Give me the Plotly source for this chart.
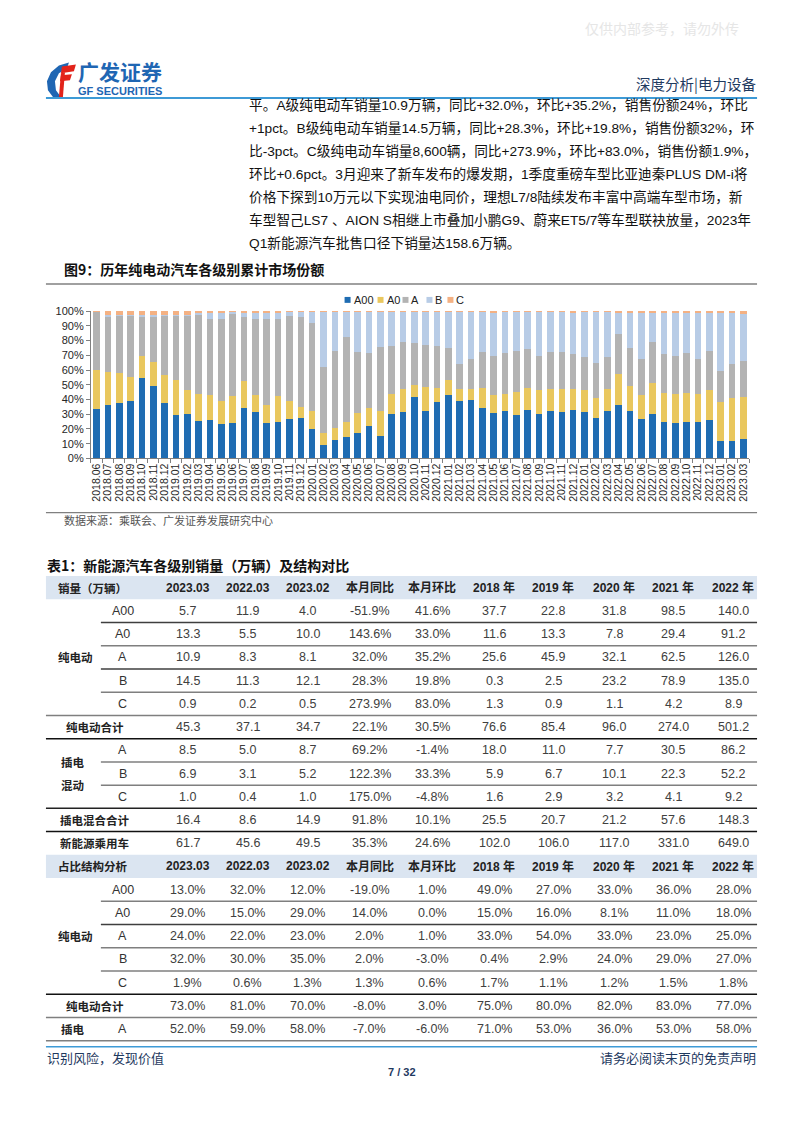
import plotly.graph_objects as go

PAGE_W, PAGE_H = 802, 1133
OFF = 8  # default body margin of the html page
W, H = PAGE_W - 2 * OFF, PAGE_H - 2 * OFF

# ---------------- chart data (market share %) ----------------
months = ["2018.06", "2018.07", "2018.08", "2018.09", "2018.10", "2018.11", "2018.12",
          "2019.01", "2019.02", "2019.03", "2019.04", "2019.05", "2019.06", "2019.07",
          "2019.08", "2019.09", "2019.10", "2019.11", "2019.12",
          "2020.01", "2020.02", "2020.03", "2020.04", "2020.05", "2020.06", "2020.07",
          "2020.08", "2020.09", "2020.10", "2020.11", "2020.12",
          "2021.01", "2021.02", "2021.03", "2021.04", "2021.05", "2021.06", "2021.07",
          "2021.08", "2021.09", "2021.10", "2021.11", "2021.12",
          "2022.01", "2022.02", "2022.03", "2022.04", "2022.05", "2022.06", "2022.07",
          "2022.08", "2022.09", "2022.10", "2022.11", "2022.12",
          "2023.01", "2023.02", "2023.03"]

share_a00 = [33.6, 36.2, 37.8, 39.1, 54.6, 49.2, 37.4, 29.5, 30.4, 25.7, 26.2, 23.3, 24.2, 34.2,
             31.8, 23.9, 25.0, 26.8, 27.3, 20.1, 9.4, 12.3, 14.5, 17.2, 21.7, 15.5, 30.4, 31.8,
             41.8, 32.2, 38.0, 43.0, 38.9, 39.6, 34.5, 30.6, 32.4, 29.5, 33.1, 30.0, 32.4, 31.3,
             32.9, 31.3, 27.3, 32.0, 36.2, 32.4, 26.8, 30.0, 25.0, 23.9, 25.0, 24.6, 26.2, 12.1,
             12.0, 13.0]
share_a0 = [26.1, 22.4, 20.4, 16.2, 15.2, 16.1, 19.0, 23.5, 15.9, 18.3, 17.2, 15.6, 18.3, 18.1,
            11.6, 12.3, 17.5, 12.1, 7.8, 12.3, 7.8, 8.7, 10.5, 13.4, 12.8, 16.7, 13.4, 15.2,
            7.9, 16.3, 9.9, 10.0, 8.1, 7.8, 13.4, 12.4, 11.6, 15.7, 14.8, 16.3, 14.6, 15.7,
            14.1, 15.0, 13.9, 15.0, 20.8, 16.6, 16.6, 21.2, 19.5, 20.1, 19.5, 19.4, 20.1, 26.4,
            29.0, 29.0]
share_a = [39.8, 37.9, 38.6, 41.5, 26.7, 30.7, 40.4, 43.8, 50.5, 53.5, 51.0, 55.5, 55.5, 43.9,
           51.0, 58.6, 52.3, 57.7, 61.1, 59.8, 44.8, 52.2, 57.1, 41.9, 36.9, 43.4, 32.3, 32.2,
           28.6, 28.5, 28.2, 21.7, 17.2, 20.2, 24.6, 26.8, 27.4, 28.0, 26.4, 23.5, 25.0, 25.0,
           23.7, 22.4, 23.5, 22.0, 27.3, 25.7, 24.2, 27.5, 26.2, 25.4, 26.9, 23.6, 26.9, 20.8,
           23.0, 24.0]
share_b = [0.0, 0.5, 0.4, 0.4, 0.8, 1.2, 0.6, 0.6, 0.8, 1.0, 4.1, 4.1, 1.4, 3.0,
           4.9, 4.5, 4.5, 2.8, 3.2, 7.3, 37.6, 26.4, 17.4, 26.9, 28.0, 23.8, 23.3, 20.3,
           21.2, 22.5, 23.4, 24.8, 35.3, 31.9, 27.0, 29.5, 28.1, 26.3, 25.2, 29.7, 27.5, 27.5,
           28.6, 30.8, 34.8, 30.4, 15.0, 24.5, 31.6, 20.6, 28.3, 29.4, 27.6, 31.4, 25.8, 39.7,
           34.7, 32.1]
share_c = [0.5, 3.0, 2.8, 2.8, 2.7, 2.8, 2.6, 2.6, 2.4, 1.5, 1.5, 1.5, 0.6, 0.8,
           0.7, 0.7, 0.7, 0.6, 0.6, 0.5, 0.4, 0.4, 0.5, 0.6, 0.6, 0.6, 0.6, 0.5,
           0.5, 0.5, 0.5, 0.5, 0.5, 0.5, 0.5, 0.7, 0.5, 0.5, 0.5, 0.5, 0.5, 0.5,
           0.7, 0.5, 0.5, 0.6, 0.7, 0.8, 0.8, 0.7, 1.0, 1.2, 1.0, 1.0, 1.0, 1.0,
           1.3, 1.9]

series_names = ["A00", "A0", "A", "B", "C"]
series_colors = ["#1f6cb2", "#e9c75e", "#b3b3b3", "#b8cce6", "#f4b183"]
y_ticks = [0, 10, 20, 30, 40, 50, 60, 70, 80, 90, 100]
y_ticktext = ["0%", "10%", "20%", "30%", "40%", "50%", "60%", "70%", "80%", "90%", "100%"]

# ---------------- table data ----------------
tbl_cols = ["2023.03", "2022.03", "2023.02", "本月同比", "本月环比",
            "2018 年", "2019 年", "2020 年", "2021 年", "2022 年"]
sales_bev_a00 = ["5.7", "11.9", "4.0", "-51.9%", "41.6%", "37.7", "22.8", "31.8", "98.5", "140.0"]
sales_bev_a0 = ["13.3", "5.5", "10.0", "143.6%", "33.0%", "11.6", "13.3", "7.8", "29.4", "91.2"]
sales_bev_a = ["10.9", "8.3", "8.1", "32.0%", "35.2%", "25.6", "45.9", "32.1", "62.5", "126.0"]
sales_bev_b = ["14.5", "11.3", "12.1", "28.3%", "19.8%", "0.3", "2.5", "23.2", "78.9", "135.0"]
sales_bev_c = ["0.9", "0.2", "0.5", "273.9%", "83.0%", "1.3", "0.9", "1.1", "4.2", "8.9"]
sales_bev_total = ["45.3", "37.1", "34.7", "22.1%", "30.5%", "76.6", "85.4", "96.0", "274.0", "501.2"]
sales_phev_a = ["8.5", "5.0", "8.7", "69.2%", "-1.4%", "18.0", "11.0", "7.7", "30.5", "86.2"]
sales_phev_b = ["6.9", "3.1", "5.2", "122.3%", "33.3%", "5.9", "6.7", "10.1", "22.3", "52.2"]
sales_phev_c = ["1.0", "0.4", "1.0", "175.0%", "-4.8%", "1.6", "2.9", "3.2", "4.1", "9.2"]
sales_phev_total = ["16.4", "8.6", "14.9", "91.8%", "10.1%", "25.5", "20.7", "21.2", "57.6", "148.3"]
sales_nev = ["61.7", "45.6", "49.5", "35.3%", "24.6%", "102.0", "106.0", "117.0", "331.0", "649.0"]
pct_bev_a00 = ["13.0%", "32.0%", "12.0%", "-19.0%", "1.0%", "49.0%", "27.0%", "33.0%", "36.0%", "28.0%"]
pct_bev_a0 = ["29.0%", "15.0%", "29.0%", "14.0%", "0.0%", "15.0%", "16.0%", "8.1%", "11.0%", "18.0%"]
pct_bev_a = ["24.0%", "22.0%", "23.0%", "2.0%", "1.0%", "33.0%", "54.0%", "33.0%", "23.0%", "25.0%"]
pct_bev_b = ["32.0%", "30.0%", "35.0%", "2.0%", "-3.0%", "0.4%", "2.9%", "24.0%", "29.0%", "27.0%"]
pct_bev_c = ["1.9%", "0.6%", "1.3%", "1.3%", "0.6%", "1.7%", "1.1%", "1.2%", "1.5%", "1.8%"]
pct_bev_total = ["73.0%", "81.0%", "70.0%", "-8.0%", "3.0%", "75.0%", "80.0%", "82.0%", "83.0%", "77.0%"]
pct_phev_a = ["52.0%", "59.0%", "58.0%", "-7.0%", "-6.0%", "71.0%", "53.0%", "36.0%", "53.0%", "58.0%"]

para_lines = [
    "平。A级纯电动车销量10.9万辆，同比+32.0%，环比+35.2%，销售份额24%，环比",
    "+1pct。B级纯电动车销量14.5万辆，同比+28.3%，环比+19.8%，销售份额32%，环",
    "比-3pct。C级纯电动车销量8,600辆，同比+273.9%，环比+83.0%，销售份额1.9%，",
    "环比+0.6pct。3月迎来了新车发布的爆发期，1季度重磅车型比亚迪秦PLUS DM-i将",
    "价格下探到10万元以下实现油电同价，理想L7/8陆续发布丰富中高端车型市场，新",
    "车型智己LS7 、AION S相继上市叠加小鹏G9、蔚来ET5/7等车型联袂放量，2023年",
    "Q1新能源汽车批售口径下销量达158.6万辆。",
]

# ---------------- helpers ----------------
FONT = "Liberation Sans, Arial, Noto Sans CJK SC, sans-serif"
NARROW = "Liberation Sans Narrow, Arial Narrow, Liberation Sans, Noto Sans CJK SC, sans-serif"
CJK = "Noto Sans CJK SC, Liberation Sans, sans-serif"


def X(px):
    return (px - OFF) / W


def Y(py):
    return 1 - (py - OFF) / H


annotations = []
shapes = []


def txt(x, y, s, size=12, color="#222222", xanchor="center", family=FONT, bold=False):
    if bold:
        s = "<b>" + s + "</b>"
    annotations.append(dict(x=X(x), y=Y(y), xref="paper", yref="paper", text=s,
                            showarrow=False, xanchor=xanchor, yanchor="middle",
                            borderpad=0,
                            font=dict(size=size, color=color, family=family)))


def hline(x0, x1, y, color="#7f7f7f", width=1.0):
    shapes.append(dict(type="line", xref="paper", yref="paper", x0=X(x0), x1=X(x1),
                       y0=Y(y), y1=Y(y), line=dict(color=color, width=width)))


def rect(x0, y0, x1, y1, color):
    shapes.append(dict(type="rect", xref="paper", yref="paper", x0=X(x0), x1=X(x1),
                       y0=Y(y0), y1=Y(y1), fillcolor=color, line=dict(width=0), layer="below"))


def path(pts, color):
    d = "M " + " L ".join(f"{X(a):.5f},{Y(b):.5f}" for a, b in pts) + " Z"
    shapes.append(dict(type="path", xref="paper", yref="paper", path=d,
                       fillcolor=color, line=dict(width=0)))


# ---------------- figure ----------------
fig = go.Figure()
for name, vals, col in zip(series_names, [share_a00, share_a0, share_a, share_b, share_c], series_colors):
    fig.add_trace(go.Bar(x=months, y=vals, name=name, marker=dict(color=col, line=dict(width=0)),
                         showlegend=False))

# ---- header ----
txt(662, 22, "仅供内部参考，请勿外传", size=14, color="#e6e6e6", family=CJK)
# logo icon (decorative)
path([(68, 57), (58, 60), (50, 67), (46, 76), (47, 85), (52, 92), (60, 92), (55, 85), (54, 76),
      (58, 68), (66, 63)], "#1f66b3")
path([(61, 61), (75, 59), (73, 66), (60, 68)], "#e2231a")
path([(60, 70), (71, 69), (69, 75), (59, 76)], "#e2231a")
path([(60, 68), (64, 67), (62, 92), (58, 92)], "#e2231a")
txt(76, 66, "广发证券", size=21, color="#1f66b3", xanchor="left", family=CJK, bold=True)
txt(76, 86, "GF SECURITIES", size=11, color="#1f66b3", xanchor="left", family=FONT, bold=True)
txt(757, 78, "深度分析|电力设备", size=14.5, color="#1f3a5f", xanchor="right", family=CJK)
hline(45, 757, 93, color="#3d9ad6", width=2)

# ---- paragraph ----
for i, line in enumerate(para_lines):
    txt(247, 100 + i * 23.2, line, size=13.7, color="#111111", xanchor="left", family=FONT)

# ---- figure title ----
txt(62, 266, "图9：历年纯电动汽车各级别累计市场份额", size=14, color="#111111", xanchor="left",
    family=CJK, bold=True)
hline(45, 757, 281, color="#808080", width=1.5)
hline(45, 757, 512, color="#808080", width=1.2)
txt(62, 520, "数据来源：乘联会、广发证券发展研究中心", size=11, color="#555555", xanchor="left",
    family=CJK)

# legend (decorative)
leg_sq = [347, 380, 405, 429, 450]
for sx, nm, col in zip(leg_sq, series_names, series_colors):
    rect(sx - 3, 294, sx + 3, 300, col)
    txt(sx + 5, 297, nm, size=11, color="#222222", xanchor="left", family=FONT)

# ---- table ----
txt(45, 565, "表1：新能源汽车各级别销量（万辆）及结构对比", size=14, color="#111111",
    xanchor="left", family=CJK, bold=True)
col_x = [187, 247, 307, 369, 432, 494, 553, 614, 673, 733]
RH = 23.5
TL, TR, SUBX = 45, 757, 100


def header(ytop, label):
    rect(TL, ytop, TR, ytop + RH, "#dbe5f1")
    yc = ytop + RH / 2
    txt(92, yc, label, size=11.5, color="#222222", family=CJK, bold=True)
    for cx, c in zip(col_x, tbl_cols):
        txt(cx, yc, c, size=12, color="#222222", family=NARROW, bold=True)


def row(ytop, vals, sub=None, label=None):
    yc = ytop + RH / 2
    if sub is not None:
        txt(122, yc, sub, size=12.5, color="#333333", family=NARROW)
    if label is not None:
        txt(94, yc, label, size=11.5, color="#222222", family=CJK, bold=True)
    for cx, v in zip(col_x, vals):
        txt(cx, yc, v, size=12.5, color="#404040", family=NARROW)


y0 = 576.0
header(y0, "销量（万辆）")
sales_rows = [
    (sales_bev_a00, "A00", None, "sub", "#3f3f3f"),
    (sales_bev_a0, "A0", None, "sub", "#7f7f7f"),
    (sales_bev_a, "A", None, "sub", "#3f3f3f"),
    (sales_bev_b, "B", None, "sub", "#7f7f7f"),
    (sales_bev_c, "C", None, "full", "#7f7f7f"),
    (sales_bev_total, None, "纯电动合计", "full", "#111111"),
    (sales_phev_a, "A", None, "sub", "#7f7f7f"),
    (sales_phev_b, "B", None, "sub", "#7f7f7f"),
    (sales_phev_c, "C", None, "full", "#222222"),
    (sales_phev_total, None, "插电混合合计", "full", "#111111"),
    (sales_nev, None, "新能源乘用车", None, None),
]
yt = y0 + RH
for vals, sub, lab, ln, lc in sales_rows:
    row(yt, vals, sub, lab)
    if ln == "sub":
        hline(SUBX, TR, yt + RH, color=lc, width=1.5)
    elif ln == "full":
        hline(TL, TR, yt + RH, color=lc, width=1.5)
    yt += RH
txt(75, y0 + RH + 2.5 * RH, "纯电动", size=11.5, color="#222222", family=CJK, bold=True)
txt(72, y0 + RH + 7.5 * RH - 12, "插电", size=11.5, color="#222222", family=CJK, bold=True)
txt(72, y0 + RH + 7.5 * RH + 12, "混动", size=11.5, color="#222222", family=CJK, bold=True)

y1 = yt
header(y1, "占比结构分析")
pct_rows = [
    (pct_bev_a00, "A00", None, "sub", "#7f7f7f"),
    (pct_bev_a0, "A0", None, "sub", "#3f3f3f"),
    (pct_bev_a, "A", None, "sub", "#7f7f7f"),
    (pct_bev_b, "B", None, "sub", "#7f7f7f"),
    (pct_bev_c, "C", None, "full", "#111111"),
    (pct_bev_total, None, "纯电动合计", "full", "#7f7f7f"),
    (pct_phev_a, "A", None, "full", "#7f7f7f"),
]
yt = y1 + RH
for vals, sub, lab, ln, lc in pct_rows:
    row(yt, vals, sub, lab)
    if ln == "sub":
        hline(SUBX, TR, yt + RH, color=lc, width=1.5)
    elif ln == "full":
        hline(TL, TR, yt + RH, color=lc, width=1.5)
    yt += RH
txt(75, y1 + RH + 2.5 * RH, "纯电动", size=11.5, color="#222222", family=CJK, bold=True)
txt(72, y1 + RH + 6.5 * RH, "插电", size=11.5, color="#222222", family=CJK, bold=True)

# ---- footer ----
hline(45, 757, 1052, color="#3d9ad6", width=1.5)
txt(45, 1063, "识别风险，发现价值", size=13, color="#1f3a5f", xanchor="left", family=CJK)
txt(757, 1063, "请务必阅读末页的免责声明", size=13, color="#1f3a5f", xanchor="right", family=CJK)
txt(402, 1077, "7 / 32", size=11, color="#1f3a5f", family=FONT, bold=True)

# ---- layout ----
x_dom = [X(90), X(749)]
y_dom = [Y(457.3), Y(308.3)]
fig.update_layout(
    width=W, height=H, autosize=False,
    margin=dict(l=0, r=0, t=0, b=0),
    paper_bgcolor="white", plot_bgcolor="rgba(0,0,0,0)",
    barmode="stack", bargap=0.42,
    showlegend=False,
    xaxis=dict(domain=x_dom, type="category", tickangle=-90, tickmode="linear", tick0=0, dtick=1,
               showline=True, linecolor="#808080", linewidth=1, ticks="outside", ticklen=4,
               tickcolor="#808080", tickson="boundaries",
               tickfont=dict(size=10.5, color="#262626", family=FONT), showgrid=False,
               fixedrange=True),
    yaxis=dict(domain=y_dom, range=[0, 100], tickvals=y_ticks, ticktext=y_ticktext,
               showline=True, linecolor="#808080", linewidth=1, ticks="outside", ticklen=4,
               tickcolor="#808080", showgrid=False, zeroline=False,
               tickfont=dict(size=11, color="#262626", family=FONT), fixedrange=True),
    annotations=annotations, shapes=shapes,
)

fig.write_html("out.html")
